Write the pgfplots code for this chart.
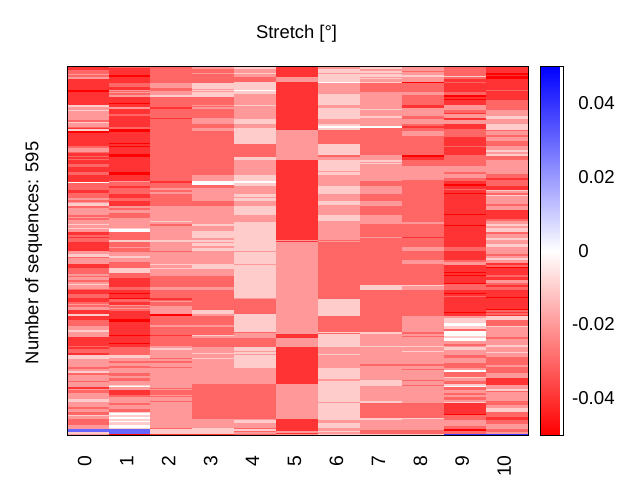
\documentclass[border=0pt]{standalone}
\usepackage{fontspec}
\setmainfont{Liberation Sans}
\usepackage{pgfplots}
\pgfplotsset{compat=1.18}
\pgfplotsset{
  col/.style={mesh,shader=flat corner,line width=31.8pt,point meta=\thisrow{c},forget plot},
  table/tab/.style={row sep=\\,x expr=#1,y expr=(\thisrow{y}-66.7)*1.6155},
}
\begin{document}
\begin{tikzpicture}
\path[use as bounding box] (0,0) rectangle (480pt,360pt);
\begin{axis}[
  at={(50.1pt,33.7pt)},anchor=south west,
  scale only axis,width=346pt,height=276.3pt,
  xmin=-0.5,xmax=10.5,ymin=0,ymax=595,y dir=reverse,
  xtick={0,1,2,3,4,5,6,7,8,9,10},ytick=\empty,
  major tick length=0pt,axis on top,
  font=\fontsize{13.8}{16}\selectfont,
  /pgf/number format/assume math mode=true,
  x tick label style={rotate=90,anchor=east,inner sep=0pt,xshift=-4pt,yshift=2.2pt,font=\fontsize{14.5}{16}\selectfont},
  xticklabel shift=11pt,
  title={Stretch [°]},
  title style={yshift=8.5pt,xshift=-0.7pt},
  ylabel={Number of sequences: 595},
  ylabel shift=15pt,
  ylabel style={xshift=-1.5pt},
  colormap={rwb}{rgb255(0)=(255,0,0) rgb255(5)=(255,255,255) rgb255(10)=(0,0,255)},
  point meta min=-5,point meta max=5,
  colorbar,
  colorbar shift/.style={xshift=9pt},
  every colorbar/.append style={
    width=17.25pt,
    ytick={-4,-2,0,2,4},
    yticklabels={\llap{-}0.04,\llap{-}0.02,0,0.02,0.04},
    major tick length=0pt,
    yticklabel style={anchor=west,inner sep=0pt,xshift=11pt,font=\fontsize{14}{16}\selectfont},
  },
]
\addplot[col] table[tab=0] {y c\\
66.7 -4\\70 -3\\74 -2\\75.3 -3\\76.7 -2\\79.3 -4\\90 -5\\92 -4\\105 -1\\106.7 -2\\110 -1\\111 -2\\120 -3\\122.3 -1\\123.3 -2\\126.7 -3\\128.3 -4\\129.3 -1\\131 -5\\132.7 -4\\146 -3\\148.3 -2\\151.7 -3\\153.3 -4\\156 -3\\157.3 -4\\159 -3\\160 -4\\164 -3\\166.7 -4\\171.7 -3\\175 -4\\181.7 0\\183.3 -3\\
190 -4\\193 -3\\197.7 -2\\200 -3\\201.7 -2\\203.3 -1\\205.7 -3\\207.7 -2\\215 -3\\216.7 -2\\218.3 -3\\220 -2\\224 -1\\225 -2\\227.7 -1\\229 -2\\231.7 -4\\235 -3\\236.7 -4\\238.3 -3\\242.3 -4\\251 -2\\254.3 -1\\256.7 -3\\258.3 -2\\264.3 -4\\267.7 -3\\273.7 -2\\275.7 -3\\277 -2\\280 -3\\281.7 -2\\283.7 -1\\285 -2\\289 -3\\290.3 -4\\293.7 -3\\297.7 -4\\301.7 -3\\303.7 -2\\305 -3\\306.7 -2\\
310 -4\\314 -1\\316 -4\\320 -3\\326 -2\\330 -1\\332 -2\\336.7 -4\\346 -3\\347.3 -4\\349.3 -3\\352.7 -4\\355 -1\\359.3 -2\\366.7 -3\\369.3 -2\\371 -1\\373.3 -3\\375 -2\\380.7 -3\\382 -2\\386.7 -4\\388.7 -2\\390 -3\\392.7 -2\\399.3 -1\\402 -2\\406.7 -3\\408.7 -2\\411.7 -3\\415 -1\\416 -2\\418.7 -3\\425 -2\\429.3 3\\432 -1\\434 -2\\435 -2\\};
\addplot[col] table[tab=1] {y c\\
66.7 -3\\68 -4\\74.7 -5\\76.7 -4\\82.7 -3\\86.7 -4\\90 -2\\91 -3\\92 -2\\93.3 -3\\95 -2\\96.7 -4\\102.7 -5\\104 -4\\106.7 -2\\109.3 -4\\114 -3\\116 -4\\127.3 -3\\128.7 -5\\131.7 -4\\142.7 -5\\144 -4\\146 -5\\147.3 -4\\154 -5\\157.3 -4\\172 -5\\175 -4\\180.7 -2\\182.3 -3\\
186 -4\\187.7 -3\\194 -4\\197.7 -3\\201 -4\\205.7 -2\\207.7 -3\\209.7 -2\\213.3 -3\\217.7 -2\\228.3 -1\\229.3 0\\231.7 -3\\240 -1\\241.7 -3\\246.7 -2\\248.3 -3\\251.7 -2\\255.7 -1\\258.3 -2\\262.3 -3\\268.3 -1\\273 -3\\277.7 -4\\286.7 -3\\290 -4\\293 -5\\294.3 -4\\297.7 -5\\299 -3\\301.7 -4\\305 -2\\306.3 -3\\307.7 -2\\309 -3\\
311 -4\\318.7 -5\\322 -4\\335 -5\\336 -4\\342.7 -5\\344 -4\\347.3 -3\\355 -1\\358.3 -2\\360.7 -3\\363.3 -2\\366 -3\\368.3 -2\\372.7 -3\\376 -2\\378.3 -3\\380.7 -2\\385 -1\\386 0\\387.3 -2\\390 -4\\395 -3\\396.7 -2\\402.7 -3\\405 -2\\408.7 -3\\411.7 -1\\413.3 0\\415 -1\\417.3 0\\418.7 -1\\420.7 0\\422 -1\\425 0\\428.3 -1\\429.3 3\\434 -5\\435 -5\\};
\addplot[col] table[tab=2] {y c\\
66.7 -3\\82.7 -2\\88 -3\\90.7 -2\\94.7 -1\\96.7 -3\\107.3 -4\\109 -3\\117.7 -4\\119 -3\\180.7 -4\\182.7 -3\\188 -2\\
190 -3\\192 -2\\194 -3\\205.7 -2\\221 -1\\222 -2\\224 -3\\226 -2\\240 -1\\242 -2\\251 -3\\252 -2\\264 -1\\265.3 -2\\267.7 -1\\269 -2\\276 -3\\287 -2\\290.3 -3\\298.3 -4\\299.7 -3\\301 -2\\302 -3\\306 -2\\
314 -5\\316 -3\\325 -2\\327.3 -3\\335 -4\\336 -3\\346 -2\\348.3 -1\\350 -2\\358.3 -3\\359.3 -2\\360.7 -3\\363.3 -2\\366.7 -3\\367.7 -2\\388.3 -3\\389.3 -2\\390 -3\\395 -2\\396 -3\\397.3 -2\\401 -3\\402 -2\\428 -3\\429.3 -1\\434 -4\\435 -4\\};
\addplot[col] table[tab=3] {y c\\
66.7 -2\\69.3 -3\\72.7 -2\\74 -3\\82.7 -1\\88.7 -2\\90 -1\\91 -2\\92 -1\\96.7 -3\\105 -2\\106 -3\\107.3 -2\\109 -3\\118 -2\\124 -3\\128 -2\\131 -3\\175 -2\\180.7 0\\185 -3\\187.7 -2\\201 -3\\206 -2\\224 -1\\226 -2\\231 -1\\238 -2\\240 -1\\241.7 -2\\243 -1\\246 -2\\248 -1\\251 -2\\264 -1\\269 -2\\276 -3\\287 -2\\290 -3\\310 -1\\314 -2\\316 -3\\325 -2\\326.7 -3\\335 -1\\336 -2\\337.7 -1\\338.3 -3\\347.3 -2\\353 -1\\354 -2\\358.3 -1\\359.3 -2\\384 -3\\419 -2\\428 -1\\434 -4\\435 -4\\};
\addplot[col] table[tab=4] {y c\\
66.7 -1\\68.7 -2\\73.3 -1\\74.3 -2\\77 -3\\82 -1\\90 0\\91 -1\\94 -2\\105 -1\\106 -2\\119 -1\\124 -2\\128 -1\\144 -3\\157 -1\\160 -2\\175 -1\\181 0\\183 -1\\185 -1\\186 -2\\194 -1\\197 -2\\198 -1\\201 -2\\206 -1\\215 -2\\222 -1\\251 -2\\252 -1\\264 -2\\265 -1\\298 -2\\299 -3\\310 -3\\314 -1\\332 -3\\333 -2\\338 -3\\347 -1\\351 -2\\352 -1\\354 -2\\355 -1\\368 -2\\384 -3\\419 -2\\420 -1\\423 -2\\428 -3\\429 -1\\430.7 -3\\432 -2\\434 -3\\435 -3\\};
\addplot[col] table[tab=5] {y c\\
66.7 -4\\76.7 -2\\82 -4\\130 -2\\160 -4\\240 -2\\241 -4\\242 -2\\334 -4\\338 -2\\347 -4\\384 -2\\419 -4\\431 -2\\433 -4\\434 -2\\435 -2\\};
\addplot[col] table[tab=6] {y c\\
66.7 -2\\69 -1\\72.7 -2\\74 -1\\81.7 0\\83 -2\\94 -1\\105 -2\\108 -1\\119 -2\\124 -1\\126 0\\128 -1\\130 -3\\144 -1\\155 -3\\157 -2\\160 -1\\171 -2\\172 -1\\175 -2\\186 -1\\194 -2\\201 -1\\205 -2\\215 -1\\221 -2\\240 -3\\241 -2\\242 -3\\299 -1\\316 -3\\332 -1\\333 -3\\334 -1\\347 -2\\354 -1\\355 -2\\368 -1\\379 -2\\381 -1\\402 -2\\403 -1\\420 -2\\423 -1\\428 -2\\431 -1\\432 -2\\434 -1\\435 -1\\};
\addplot[col] table[tab=7] {y c\\
66.7 -1\\69 -2\\71 -1\\72.7 -2\\74 -1\\76.7 -2\\78 -1\\79.3 -2\\82 -1\\83 -3\\92 -2\\109 -1\\110 -2\\116 -1\\118 -2\\126 0\\128 -3\\155 -2\\160 -1\\162 -2\\163 -1\\164 -2\\181 -3\\186 -2\\194 -3\\201 -2\\206 -3\\215 -2\\224 -3\\237 -2\\238 -3\\285 -1\\290 -3\\332 -1\\334 -2\\346 -1\\347 -2\\364 -3\\366 -2\\380 -1\\386 -2\\401 -1\\403 -3\\418 -1\\420 -2\\430 -3\\434 -1\\435 -1\\};
\addplot[col] table[tab=8] {y c\\
66.7 -2\\71 -3\\72.3 -2\\75 -1\\76.7 -2\\82 -5\\83 -3\\92 -2\\95 -3\\105 -4\\108 -2\\116 -3\\119 -2\\124 -3\\126 -4\\128 -3\\131 -2\\136 -3\\155 -5\\157 -4\\160 -3\\166 -2\\180 -3\\222 -2\\224 -3\\237 -4\\238 -3\\247 -2\\251 -3\\260 -2\\264 -3\\285 -1\\286 -2\\290 -3\\316 -2\\332 -3\\334 -2\\336 -3\\337 -2\\346 -1\\347 -2\\351 -1\\352 -2\\364 -3\\366 -2\\369 -3\\370 -2\\380 -3\\381 -2\\385 -3\\386 -2\\403 -3\\418 -1\\419 -2\\430 -3\\434 -1\\435 -1\\};
\addplot[col] table[tab=9] {y c\\
66.7 -3\\75.7 -1\\77 -3\\79 -4\\82 -3\\83 -4\\92 -3\\95 -5\\96.7 -4\\99 -5\\100 -4\\105 -2\\110 -3\\112.7 -4\\114 -2\\118 -4\\120 -2\\124 -4\\129 -3\\137 -4\\146 -3\\147 -4\\155 -3\\166 -2\\172 -3\\174 -2\\178 -3\\181 -4\\184 -5\\186 -4\\189 -3\\190 -4\\193 -5\\194 -4\\214 -5\\215 -4\\225 -5\\226 -4\\247 -3\\251 -4\\260 -3\\262 -2\\265 -4\\272 -5\\273 -4\\275 -5\\276 -4\\283 -5\\284 -3\\290 -4\\293 -5\\294 -4\\296 -3\\297 -4\\311.7 -5\\313 -4\\316 -2\\318 -1\\323 0\\326 -1\\329 -3\\331 0\\336 -1\\338 0\\341 -2\\344 -3\\346 -2\\347 -1\\350 -2\\355 -3\\358 -2\\363 -3\\368 -2\\370 0\\372 -3\\377 -1\\378 -2\\381 -3\\384 -1\\386 0\\387 -3\\390 -2\\393 -3\\395 -2\\397 -3\\400 -2\\402 -1\\403 -4\\414 -5\\415 -3\\420 -2\\426 -3\\429 -5\\431 -3\\434 4\\435 4\\};
\addplot[col] table[tab=10] {y c\\
66.7 -4\\72.7 -5\\74.7 -4\\76 -5\\79 -4\\90 -3\\91 -4\\100 -3\\110 -2\\116 -1\\119 -2\\124 -1\\130 -3\\131 -2\\135 -3\\137 -2\\141 -3\\146 -2\\150 -1\\152 -2\\154 -1\\156 -3\\160 -2\\174 -3\\178 -4\\180 -3\\186 -4\\188 -4\\190 -1\\191 -2\\193 -3\\195 -1\\196 -2\\204 -3\\206 -2\\210 -4\\219 -3\\221 -2\\224 -1\\226 -2\\228 -1\\232 -3\\234 -2\\238 -1\\240 -2\\244 -1\\247 -2\\254 -3\\256 -2\\258 -1\\260 -2\\263 -4\\265 -3\\267 -5\\268 -4\\275 -3\\277 -4\\280 -2\\283 -3\\285 -4\\287 -3\\290 -4\\297 -5\\298 -4\\309 -5\\310 -3\\312 -4\\313 -3\\315 -4\\316 -1\\320 -3\\326 -1\\327 -2\\337 -3\\339 -2\\345 -1\\347 -2\\352 -1\\353 -2\\357 -3\\365 -2\\367 -3\\373 -2\\378 -4\\385 -2\\389 -1\\391 -3\\392 -2\\401 -3\\405 -2\\408 -1\\412 -3\\417 -4\\420 -3\\424 -2\\429 -3\\432 -2\\434 4\\435 4\\};
\end{axis}
\end{tikzpicture}
\end{document}
